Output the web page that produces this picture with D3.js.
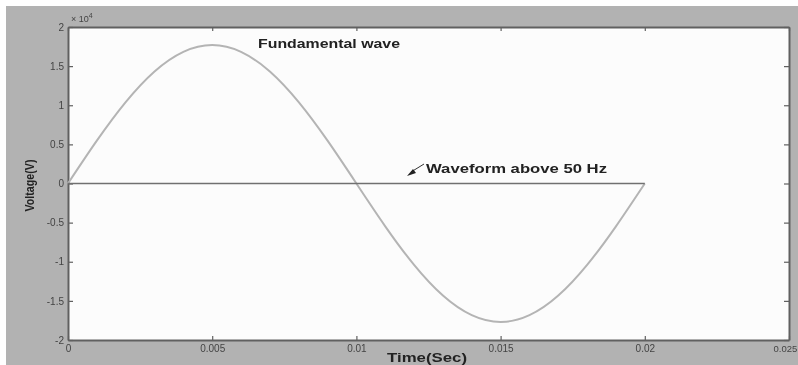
<!DOCTYPE html>
<html>
<head>
<meta charset="utf-8">
<script src="https://cdn.jsdelivr.net/npm/d3@7"></script>
<style>
	body { margin: 0; background: #fff; }
	svg { display: block; font-family: "Liberation Sans", Arial, sans-serif; }
</style>
</head>
<body>
<div id="chart"></div>
<script>
// time samples (s)
const time = [0, 0.001, 0.002, 0.003, 0.004, 0.005, 0.006, 0.007, 0.008, 0.009, 0.010,
	0.011, 0.012, 0.013, 0.014, 0.015, 0.016, 0.017, 0.018, 0.019, 0.020];
// fundamental wave (V)
const fundamental = [0, 5470, 10400, 14320, 16830, 17700, 16830, 14320, 10400, 5470, 0,
	-5470, -10400, -14320, -16830, -17700, -16830, -14320, -10400, -5470, 0];
// waveform above 50 Hz (V)
const harmonic = [0, 0, 0, 0, 0, 0, 0, 0, 0, 0, 0, 0, 0, 0, 0, 0, 0, 0, 0, 0, 0];

const xTicks = [0, 0.005, 0.01, 0.015, 0.02, 0.025];
const yTicks = [-2, -1.5, -1, -0.5, 0, 0.5, 1, 1.5, 2];

const width = 798;
const height = 365;
const margin = {top: 27, right: 9, bottom: 25, left: 68};

const svg = d3.select("#chart")
	.append("svg")
	.attr("width", width)
	.attr("height", height);

svg.append("defs").append("filter")
	.attr("id", "soft")
	.append("feGaussianBlur")
	.attr("stdDeviation", 0.45);

// figure background
svg.append("rect")
	.attr("x", 6)
	.attr("y", 6)
	.attr("width", width - 6)
	.attr("height", height - 6)
	.attr("fill", "#b2b2b2");

const g = svg.append("g").attr("filter", "url(#soft)");

const x = d3.scaleLinear()
	.domain([0, 0.025])
	.range([margin.left, width - margin.right]);

const y = d3.scaleLinear()
	.domain([-2e4, 2e4])
	.range([height - margin.bottom, margin.top]);

g.append("rect")
	.attr("x", x(0))
	.attr("y", y(2e4))
	.attr("width", x(0.025) - x(0))
	.attr("height", y(-2e4) - y(2e4))
	.attr("fill", "#fcfcfc");

const fmt = d => d === 0 ? "0" : String(d);

// axes (ticks inside, like matlab)
const xAxis = g.append("g")
	.attr("transform", `translate(0,${y(-2e4)})`)
	.call(d3.axisBottom(x).tickValues(xTicks).tickFormat(fmt).tickSizeInner(-4).tickSizeOuter(0));
const xAxisTop = g.append("g")
	.attr("transform", `translate(0,${y(2e4)})`)
	.call(d3.axisTop(x).tickValues(xTicks).tickFormat("").tickSizeInner(-4).tickSizeOuter(0));
const yAxis = g.append("g")
	.attr("transform", `translate(${x(0)},0)`)
	.call(d3.axisLeft(y).tickValues(yTicks.map(d => d * 1e4)).tickFormat(d => fmt(d / 1e4)).tickSizeInner(-5).tickSizeOuter(0));
const yAxisRight = g.append("g")
	.attr("transform", `translate(${x(0.025)},0)`)
	.call(d3.axisRight(y).tickValues(yTicks.map(d => d * 1e4)).tickFormat("").tickSizeInner(-5).tickSizeOuter(0));

[xAxis, xAxisTop, yAxis, yAxisRight].forEach(a => {
	a.select(".domain").attr("stroke", "#606060").attr("stroke-width", 2);
	a.selectAll(".tick line").attr("stroke", "#606060").attr("stroke-width", 1.2);
	a.selectAll("text").attr("fill", "#444").attr("font-size", 10).attr("font-family", "Liberation Sans, Arial, sans-serif");
});
xAxis.selectAll("text").attr("dy", "0.9em");
// last label sits right at the window edge
xAxis.selectAll(".tick").filter(d => d === 0.025).select("text")
	.attr("text-anchor", "start").attr("dx", "-16px").attr("font-size", 9.5);
yAxis.selectAll("text").attr("dx", "-1px");

// exponent label
const expo = g.append("text")
	.attr("x", x(0) + 3)
	.attr("y", y(2e4) - 5)
	.attr("font-size", 9)
	.attr("fill", "#444");
expo.append("tspan").text("× 10");
expo.append("tspan").attr("font-size", 7).attr("dy", -4).text("4");

const line = d3.line()
	.x((d, i) => x(time[i]))
	.y(d => y(d))
	.curve(d3.curveNatural);

g.append("path")
	.datum(fundamental)
	.attr("d", line)
	.attr("fill", "none")
	.attr("stroke", "#b4b4b4")
	.attr("stroke-width", 2);

g.append("path")
	.datum(harmonic)
	.attr("d", line)
	.attr("fill", "none")
	.attr("stroke", "#707070")
	.attr("stroke-width", 1.6);

// annotations (text in the source is stretched horizontally)
const boldText = (sel, txt, len) => sel
	.attr("font-size", 13)
	.attr("font-weight", "bold")
	.attr("fill", "#222")
	.attr("textLength", len)
	.attr("lengthAdjust", "spacingAndGlyphs")
	.text(txt);

boldText(g.append("text").attr("x", 258).attr("y", 48), "Fundamental wave", 142);
boldText(g.append("text").attr("x", 426).attr("y", 173), "Waveform above 50 Hz", 181);

g.append("line")
	.attr("x1", 424)
	.attr("y1", 164)
	.attr("x2", 411)
	.attr("y2", 172)
	.attr("stroke", "#333")
	.attr("stroke-width", 1);
g.append("path")
	.attr("d", "M407,176 L413,169 L416,173 Z")
	.attr("fill", "#222");

// axis titles
boldText(g.append("text").attr("x", 387).attr("y", 362), "Time(Sec)", 80);

g.append("text")
	.attr("transform", `translate(34,${y(0) + 2}) rotate(-90)`)
	.attr("text-anchor", "middle")
	.attr("font-size", 13)
	.attr("font-weight", "bold")
	.attr("fill", "#222")
	.attr("textLength", 52)
	.attr("lengthAdjust", "spacingAndGlyphs")
	.text("Voltage(V)");
</script>
</body>
</html>
